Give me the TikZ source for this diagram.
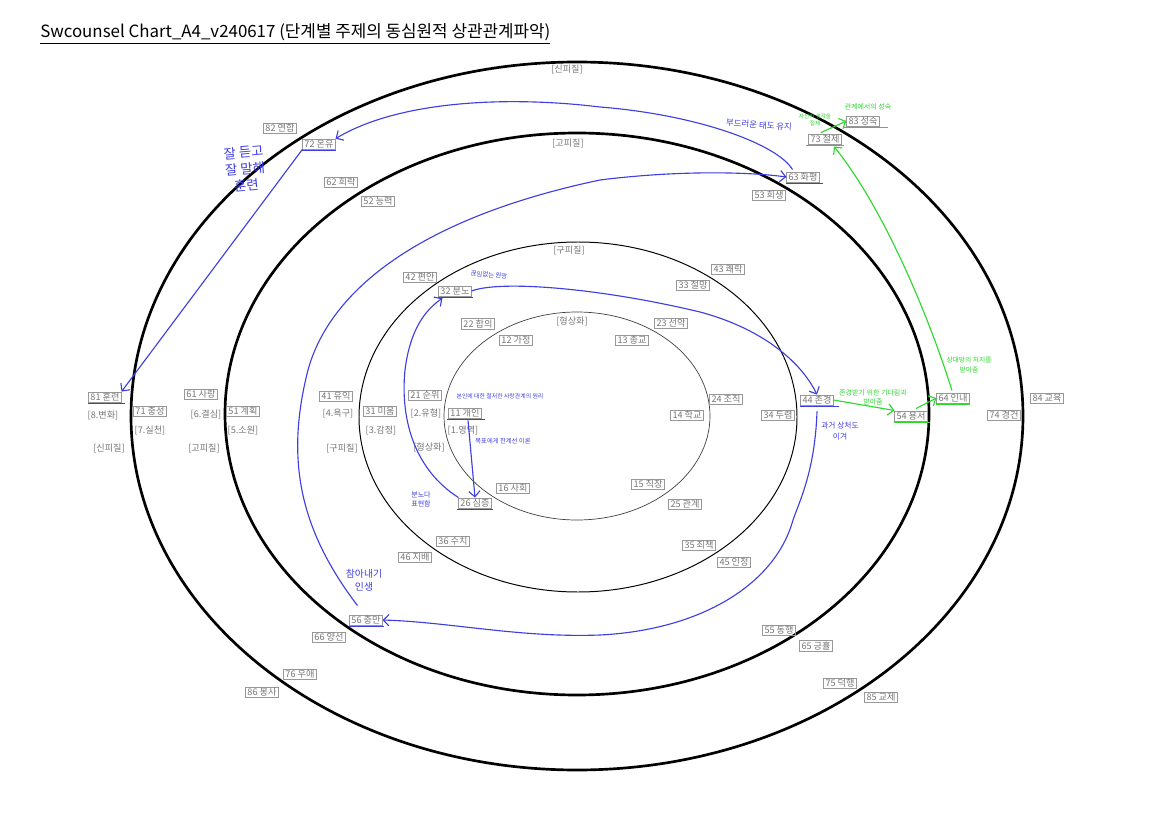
\documentclass[tikz,border=0pt]{standalone}
\usepackage{fontspec}
\setmainfont{Noto Sans CJK KR}
\usetikzlibrary{calc,arrows.meta}
\definecolor{penblue}{RGB}{62,62,225}
\definecolor{pengreen}{RGB}{45,215,45}
\definecolor{lblgray}{RGB}{118,118,118}
\tikzset{
  lbl/.style={draw=lblgray!75, line width=0.5pt, text=lblgray, font=\fontsize{6.5}{7}\selectfont, inner xsep=1.2pt, inner ysep=0.7pt},
  tag/.style={text=lblgray, font=\fontsize{6.5}{7}\selectfont, inner sep=0.5pt},
  ring/.style={line width=1.9pt},
  bluepen/.style={penblue, line width=0.8pt},
  greenpen/.style={pengreen, line width=0.8pt},
  penarrow/.style={-{Straight Barb[length=4pt,width=8pt]}},
  bluenote/.style={text=penblue, align=center, inner sep=0pt},
  greennote/.style={text=pengreen, align=center, inner sep=0pt},
}

\begin{document}
\begin{tikzpicture}[x=0.025cm, y=-0.025cm]
    \useasboundingbox (0,0) rectangle (1152,814);
    \node[anchor=base west, inner sep=0pt, font=\fontsize{12}{14}\selectfont] (title) at (40,38) {\underline{Swcounsel Chart\_A4\_v240617 (단계별 주제의 동심원적 상관관계파악)}};

    \draw[ring] (577,416) ellipse [x radius=446, y radius=354];
    \draw[ring] (577,414) ellipse [x radius=352, y radius=281];
    \draw[line width=0.7pt] (578,417) ellipse [x radius=219, y radius=175];
    \draw[line width=0.5pt, black!75] (577,416) ellipse [x radius=133, y radius=104];

    \node[tag] (t8) at (567,70) {[신피질]};
    \node[tag] (t6) at (568,143) {[고피질]};
    \node[tag] (t4) at (569,250) {[구피질]};
    \node[tag] (t2) at (572,321) {[형상화]};
    \node[tag] (s8) at (109,448) {[신피질]};
    \node[tag] (s6) at (204,448) {[고피질]};
    \node[tag] (s4) at (342,448) {[구피질]};
    \node[tag] (s2) at (429,447) {[형상화]};
    \node[tag] (k8) at (103,415) {[8.변화]};
    \node[tag] (k7) at (150,430) {[7.실천]};
    \node[tag] (k6) at (206,414) {[6.결심]};
    \node[tag] (k5) at (243,431) {[5.소원]};
    \node[tag] (k4) at (338,414) {[4.욕구]};
    \node[tag] (k3) at (381,430) {[3.감정]};
    \node[tag] (k2) at (426,413) {[2.유형]};
    \node[tag] (k1) at (463,430) {[1.영역]};

    \node[lbl] (n82) at (280,128) {82 연합};
    \node[lbl] (n72) at (319,144) {72 온유};
    \node[lbl] (n62) at (341,182) {62 희락};
    \node[lbl] (n52) at (378,201) {52 능력};
    \node[lbl] (n63) at (803,177) {63 화평};
    \node[lbl] (n53) at (769,195) {53 희생};
    \node[lbl] (n73) at (825,139) {73 절제};
    \node[lbl] (n83) at (863,121) {83 성숙};
    \node[lbl] (n42) at (420,277) {42 편안};
    \node[lbl] (n32) at (455,291) {32 분노};
    \node[lbl] (n43) at (728,269) {43 쾌락};
    \node[lbl] (n33) at (693,285) {33 절망};
    \node[lbl] (n22) at (478,324) {22 합의};
    \node[lbl] (n12) at (516,340) {12 가정};
    \node[lbl] (n23) at (671,323) {23 선악};
    \node[lbl] (n13) at (632,340) {13 종교};
    \node[lbl] (n81) at (105,397) {81 훈련};
    \node[lbl] (n71) at (150,411) {71 충성};
    \node[lbl] (n61) at (201,394) {61 사랑};
    \node[lbl] (n51) at (243,411) {51 계획};
    \node[lbl] (n41) at (336,396) {41 유익};
    \node[lbl] (n31) at (380,411) {31 미움};
    \node[lbl] (n21) at (425,395) {21 순위};
    \node[lbl] (n11) at (465,413) {11 개인};
    \node[lbl] (n14) at (687,415) {14 학교};
    \node[lbl] (n24) at (726,399) {24 조직};
    \node[lbl] (n34) at (778,415) {34 두렴};
    \node[lbl] (n44) at (817,400) {44 존경};
    \node[lbl] (n54) at (911,416) {54 용서};
    \node[lbl] (n64) at (953,398) {64 인내};
    \node[lbl] (n74) at (1004,415) {74 경건};
    \node[lbl] (n84) at (1047,398) {84 교육};
    \node[lbl] (n16) at (513,488) {16 사회};
    \node[lbl] (n26) at (475,503) {26 심층};
    \node[lbl] (n15) at (648,484) {15 직장};
    \node[lbl] (n25) at (685,504) {25 관계};
    \node[lbl] (n36) at (453,541) {36 수치};
    \node[lbl] (n46) at (415,557) {46 지배};
    \node[lbl] (n35) at (699,545) {35 죄책};
    \node[lbl] (n45) at (734,562) {45 인정};
    \node[lbl] (n56) at (366,620) {56 충만};
    \node[lbl] (n66) at (329,637) {66 양선};
    \node[lbl] (n55) at (779,630) {55 동행};
    \node[lbl] (n65) at (816,646) {65 긍휼};
    \node[lbl] (n76) at (300,674) {76 우애};
    \node[lbl] (n86) at (262,692) {86 봉사};
    \node[lbl] (n75) at (840,683) {75 덕행};
    \node[lbl] (n85) at (881,697) {85 교제};

    \draw[bluepen] ($(n81.south west)+(0,1)$) -- ($(n81.south east)+(3,1)$);
    \draw[bluepen] ($(n72.south west)+(0,1)$) -- ($(n72.south east)+(0,1)$);
    \draw[bluepen] ($(n63.south west)+(0,1)$) -- ($(n63.south east)+(3,1)$);
    \draw[bluepen] ($(n32.south west)+(0,1)$) -- ($(n32.south east)+(1,1)$);
    \draw[bluepen] ($(n11.south west)+(-1,1)$) -- ($(n11.south east)+(3,1)$);
    \draw[bluepen] ($(n26.south west)+(-1,1)$) -- ($(n26.south east)+(1,1)$);
    \draw[bluepen] ($(n44.south west)+(0,1)$) -- ($(n44.south east)+(5,1)$);
    \draw[bluepen] ($(n56.south west)+(0,1)$) -- ($(n56.south east)+(1,1)$);
    \draw[greenpen] ($(n83.south west)+(-3,1)$) -- ($(n83.south east)+(8,1)$);
    \draw[greenpen] ($(n73.south west)+(-2,1)$) -- ($(n73.south east)+(2,1)$);
    \draw[greenpen] ($(n54.south west)+(0,1)$) -- ($(n54.south east)+(2,1)$);
    \draw[greenpen] ($(n64.south west)+(0,1)$) -- ($(n64.south east)+(0,1)$);

    \draw[bluepen, penarrow] ($(n63.north west)+(6,-2)$) .. controls (778,145) and (700,115) .. (600,107) .. controls (510,96) and (400,100) .. (n72.north east);
    \draw[bluepen, penarrow] (n72.south west) -- (n81.north east);
    \draw[bluepen, penarrow] ($(n56.north west)+(8,-9)$) .. controls (300,530) and (285,460) .. (308,370) .. controls (330,290) and (420,218) .. (600,180) .. controls (680,170) and (750,172) .. (n63.west);
    \draw[bluepen, penarrow] (n32.east) .. controls (500,280) and (600,288) .. (700,312) .. controls (760,328) and (800,360) .. (n44.north);
    \draw[bluepen, penarrow] (n26.north west) .. controls (415,470) and (400,420) .. (405,370) .. controls (410,330) and (425,310) .. ($(n32.south west)+(4,2)$);
    \draw[bluepen, penarrow] ($(n11.south)+(3,2)$) -- (n26.north);
    \draw[bluepen, penarrow] ($(n44.south)+(0,6)$) .. controls (815,470) and (800,500) .. (793,520) .. controls (775,585) and (700,630) .. (600,635) .. controls (520,638) and (450,622) .. (n56.east);

    \draw[greenpen, penarrow] (n44.east) -- (n54.north west);
    \draw[greenpen, penarrow] ($(n54.north)+(5,-2)$) -- (n64.west);
    \draw[greenpen, penarrow] ($(n64.north)+(-1,-2)$) .. controls (930,320) and (885,210) .. ($(n73.south)+(9,2)$);
    \draw[greenpen, penarrow] ($(n73.north)+(-4,-1)$) -- (n83.west);

    \node[bluenote, font=\fontsize{9.5}{12}\selectfont, rotate=5] (w1) at (245,169) {잘 듣고\\잘 말해\\훈련};
    \node[bluenote, font=\fontsize{6}{7}\selectfont, rotate=-4] (w2) at (759,125) {부드러운 태도 유지};
    \node[bluenote, font=\fontsize{4.5}{5}\selectfont, rotate=-5] (w3) at (489,275) {끊임없는 원망};
    \node[bluenote, font=\fontsize{4.2}{5}\selectfont] (w4) at (500,396) {본인에 대한 철저한 사랑관계의 원리};
    \node[bluenote, font=\fontsize{4.5}{5}\selectfont] (w5) at (503,441) {목표에게 한계선 이론};
    \node[bluenote, font=\fontsize{5}{6.5}\selectfont] (w6) at (421,499) {분노다\\표현함};
    \node[bluenote, font=\fontsize{5.5}{8}\selectfont] (w7) at (840,431) {과거 상처도\\이겨};
    \node[bluenote, font=\fontsize{7}{9.5}\selectfont] (w8) at (364,580) {참아내기\\인생};
    \node[greennote, font=\fontsize{5}{6}\selectfont] (w9) at (868,107) {관계에서의 성숙};
    \node[greennote, font=\fontsize{4}{5}\selectfont] (w10) at (815,120) {자신의 생각을\\절제};
    \node[greennote, font=\fontsize{4.8}{6.5}\selectfont] (w11) at (969,365) {상대방의 처지를\\받아줌};
    \node[greennote, font=\fontsize{5}{6.5}\selectfont] (w12) at (873,397) {존경받기 위한 기다림과\\받아줌};
\end{tikzpicture}
\end{document}
